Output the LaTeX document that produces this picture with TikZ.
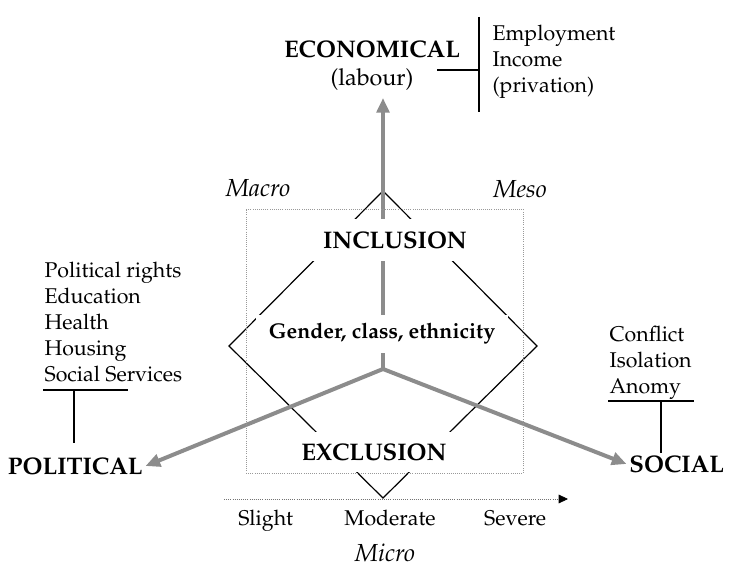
\documentclass[tikz,border=0pt]{standalone}
\usepackage[T1]{fontenc}
\usepackage{mathpazo}
\usetikzlibrary{arrows.meta,positioning}
\definecolor{bargray}{gray}{0.55}
\definecolor{dotgray}{gray}{0.6}
\tikzset{
  dimlabel/.style={font=\fontsize{18}{21}\selectfont\bfseries, inner sep=2pt},
  levlabel/.style={font=\fontsize{18.5}{22}\selectfont\itshape, inner sep=1pt},
  txt/.style={font=\fontsize{16}{19.5}\selectfont, inner sep=1pt},
  itemlist/.style={txt, align=left, anchor=west},
  blackline/.style={line width=0.9pt},
  graybar/.style={draw=bargray, line width=3pt, -{Triangle[length=11pt,width=9.5pt]}},
  dotframe/.style={draw=dotgray, line width=0.6pt, densely dotted}
}

\begin{document}
\begin{tikzpicture}[x=0.75pt,y=-0.75pt]
\useasboundingbox (0,0) rectangle (729,570);

% diamond
\coordinate (top) at (383,191);
\coordinate (lv) at (229,346);
\coordinate (rv) at (537,346);
\coordinate (bot) at (383,498);
\coordinate (hub) at (383,369);

\draw[blackline] (top) -- (lv) -- (bot) -- (rv) -- cycle;

% the three dimensions
\node[dimlabel] (econ) at (372,49) {ECONOMICAL};
\node[txt,font=\fontsize{17.5}{21}\selectfont,below=5pt of econ] (labour) {(labour)};
\coordinate (econtip) at (383,98);
\node[dimlabel,anchor=west] (political) at (5,466) {POLITICAL};
\node[dimlabel,anchor=east] (social) at (727,464) {SOCIAL};

\draw[graybar] (hub) -- (econtip);
\draw[graybar] (hub) -- (political.east);
\draw[graybar] (hub) -- (social.west);

% white boxes cut the lines
\node[dimlabel,fill=white,inner xsep=9pt,inner ysep=0pt,minimum height=32pt] (incl) at (395,240) {INCLUSION};
\node[font=\fontsize{16}{18}\selectfont\bfseries,fill=white,inner sep=0pt,
      minimum width=189pt,minimum height=28.5pt] (gce) at (382,334) {Gender, class, ethnicity};
\node[dimlabel,fill=white,inner xsep=6pt,inner ysep=0pt,minimum height=30pt] (excl) at (374,452) {EXCLUSION};

\node[dotframe,minimum width=207.75pt,minimum height=198pt] (frame) at (384.5,341) {};

% levels
\node[levlabel] (macro) at (258,188) {Macro};
\node[levlabel] (meso) at (520,189) {Meso};
\node[levlabel] (micro) at (385,553) {Micro};

% severity
\coordinate (axl) at (224,499);
\coordinate (axr) at (568,499);
\draw[dotframe,draw=black!55,-{Triangle[length=7pt,width=6.5pt,color=black]}] (axl) -- (axr);
\node[txt] (moderate) at (390,518) {Moderate};
\node[txt,base left=36pt of moderate] (slight) {Slight};
\node[txt,base right=34pt of moderate] (severe) {Severe};

% lists
\node[itemlist] (ecolist) at (491,62) {Employment\\Income\\(privation)};
\node[itemlist] (pollist) at (43,322) {Political rights\\Education\\Health\\Housing\\Social Services};
\node[itemlist] (soclist) at (608,363) {Conflict\\Isolation\\Anomy};

% brackets
\coordinate (ecotop) at (479,17);
\coordinate (ecobot) at (479,112);
\coordinate (ecoleft) at (437,70);
\coordinate (ecojoin) at (479,70);
\draw[blackline] (ecotop) -- (ecobot);
\draw[blackline] (ecoleft) -- (ecojoin);

\coordinate (polbl) at (43,390);
\coordinate (polbr) at (128,390);
\coordinate (poljoin) at (74,390);
\coordinate (polend) at (74,443);
\draw[blackline] (polbl) -- (polbr);
\draw[blackline] (poljoin) -- (polend);

\coordinate (socbl) at (608,401);
\coordinate (socbr) at (694,401);
\coordinate (socjoin) at (661,401);
\coordinate (socend) at (661,453);
\draw[blackline] (socbl) -- (socbr);
\draw[blackline] (socjoin) -- (socend);

\end{tikzpicture}
\end{document}
